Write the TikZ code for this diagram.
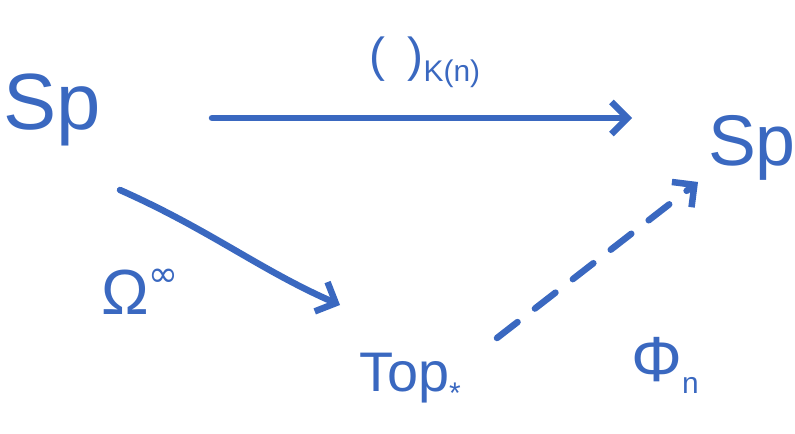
\documentclass[tikz,border=0pt]{standalone}
\usepackage{fontspec}
\setmainfont{Liberation Sans}
\newfontfamily\symf{DejaVu Sans}
\usetikzlibrary{arrows.meta}
\definecolor{ink}{HTML}{3A68C0}
\newcommand{\fsz}[1]{\fontsize{#1}{#1}\selectfont}
\begin{document}
\begin{tikzpicture}[x=1bp,y=-1bp,
  lbl/.style={text=ink,inner sep=0pt},
  arr/.style={draw=ink,line width=6.5bp,line cap=round,-{Straight Barb[length=16bp,width=32bp,line width=6.5bp]}}]
\useasboundingbox (0,0) rectangle (795,434);
\node[lbl,font=\fsz{80}] (sp1) at (52,110) {Sp};
\node[lbl,font=\fsz{72}] (sp2) at (752,148) {Sp};
\node[lbl,font=\fsz{56}] (top) at (410,378) {Top\raisebox{-12bp}{\fsz{30}*}};
\node[lbl] (k) at (425,62) {\fsz{48}(\hspace{22bp})\raisebox{-10bp}{\fsz{30}K(n)}};
\node[lbl] (om) at (140,292) {\fsz{64}Ω\raisebox{28bp}{\symf\fsz{36}∞}};
\node[lbl] (ph) at (665,365) {\fsz{64}Φ\raisebox{-12bp}{\fsz{30}n}};
\coordinate (a1) at (212,118);
\coordinate (b1) at (632,118);
\draw[arr] (a1) -- (b1);
\coordinate (a2) at (120,190);
\coordinate (b2) at (340,305);
\draw[arr] (a2) .. controls (210,230) and (260,270) .. (b2);
\coordinate (a3) at (497,338);
\coordinate (b3) at (698,182);
\draw[arr,dashed,dash pattern=on 26bp off 22bp] (a3) -- (b3);
\end{tikzpicture}
\end{document}
